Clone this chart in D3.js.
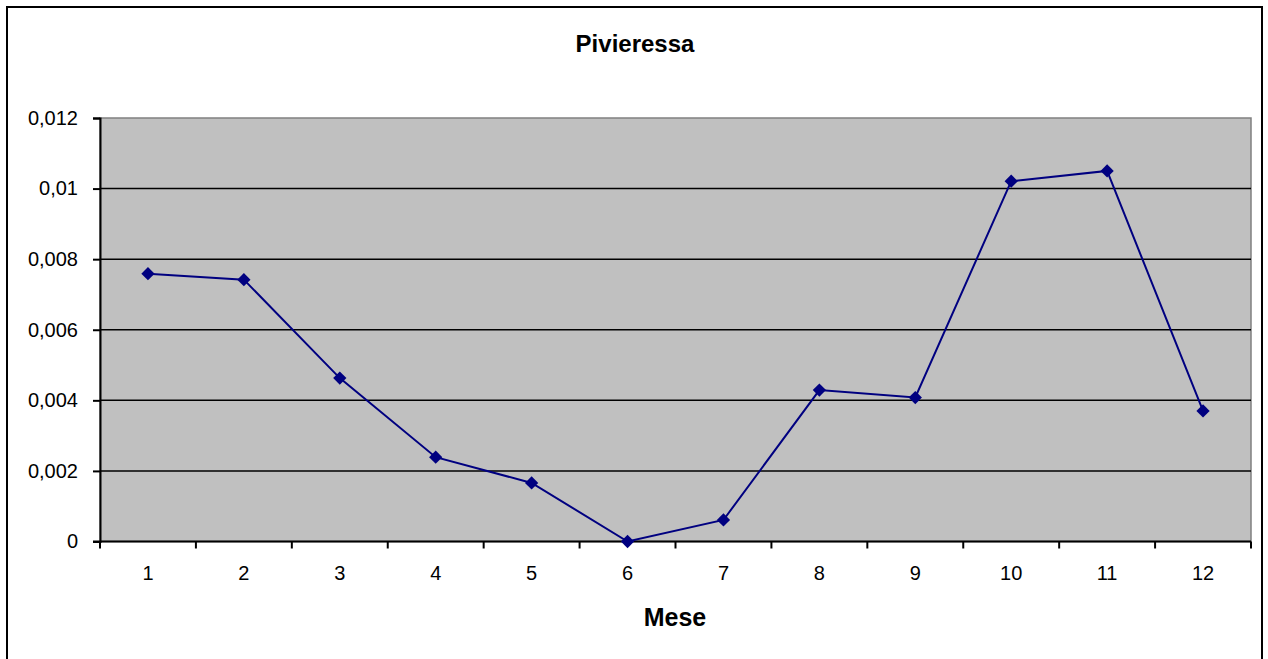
<!DOCTYPE html>
<html><head><meta charset="utf-8">
<script src="https://cdn.jsdelivr.net/npm/d3@7"></script>
<style>body{margin:0;background:#fff}svg{display:block}text{font-family:"Liberation Sans",Arial,sans-serif}</style>
</head><body>
<script>
const months = ["1","2","3","4","5","6","7","8","9","10","11","12"];
const values = [0.00759,0.00742,0.00463,0.00239,0.00166,0.0,0.00061,0.00429,0.00408,0.01021,0.0105,0.0037];
const yTicks = [0,0.002,0.004,0.006,0.008,0.01,0.012];
const yTickLabels = ["0","0,002","0,004","0,006","0,008","0,01","0,012"];
const title = "Pivieressa";
const xTitle = "Mese";

const W=1268,H=659;
const svg=d3.select("body").append("svg").attr("width",W).attr("height",H);
svg.append("rect").attr("x",7).attr("y",7).attr("width",1255).attr("height",660).attr("fill","#fff").attr("stroke","#000").attr("stroke-width",2);

const L=100,R=1251,T=118,B=541.5;
const x=d3.scaleBand().domain(months).range([L,R]);
const y=d3.scaleLinear().domain([0,0.012]).range([B,T]);

svg.append("rect").attr("x",L).attr("y",T).attr("width",R-L).attr("height",B-T).attr("fill","#c0c0c0").attr("stroke","#808080").attr("stroke-width",1.5);

// gridlines
svg.append("g").selectAll("line").data(yTicks.filter(d=>d>0 && d<0.012)).join("line")
  .attr("x1",L).attr("x2",R).attr("y1",d=>y(d)).attr("y2",d=>y(d)).attr("stroke","#000").attr("stroke-width",1.5);

// y axis
const yAxis=d3.axisLeft(y).tickValues(yTicks).tickSize(7).tickPadding(15).tickFormat((d,i)=>yTickLabels[i]);
const gy=svg.append("g").attr("transform",`translate(${L},0)`).call(yAxis);
gy.attr("font-size",null).attr("font-family",null);
gy.select(".domain").attr("stroke","#000").attr("stroke-width",2);
gy.selectAll(".tick line").attr("stroke","#000").attr("stroke-width",2);
gy.selectAll(".tick text").style("font-size","20px").attr("fill","#000");

// x axis baseline
svg.append("line").attr("x1",L-7).attr("x2",R).attr("y1",B).attr("y2",B).attr("stroke","#000").attr("stroke-width",2);
// x ticks at band boundaries
const bounds=months.map(m=>x(m)).concat([R]);
svg.append("g").selectAll("line").data(bounds).join("line")
  .attr("x1",d=>d).attr("x2",d=>d).attr("y1",B).attr("y2",B+7).attr("stroke","#000").attr("stroke-width",2);
svg.append("g").selectAll("text").data(months).join("text")
  .attr("x",d=>x(d)+x.bandwidth()/2).attr("y",580).attr("text-anchor","middle")
  .style("font-size","20px").attr("fill","#000").text(d=>d);

// line
const line=d3.line().x((d,i)=>x(months[i])+x.bandwidth()/2).y(d=>y(d));
svg.append("path").datum(values).attr("d",line).attr("fill","none").attr("stroke","#000080").attr("stroke-width",2);
svg.append("g").selectAll("path").data(values).join("path")
  .attr("d",d3.symbol().type(d3.symbolSquare).size(88))
  .attr("transform",(d,i)=>`translate(${x(months[i])+x.bandwidth()/2},${y(d)}) rotate(45)`)
  .attr("fill","#000080");

svg.append("text").attr("x",635).attr("y",52).attr("text-anchor","middle").style("font-size","24px").attr("font-weight","bold").text(title);
svg.append("text").attr("x",675).attr("y",626).attr("text-anchor","middle").style("font-size","25px").attr("font-weight","bold").text(xTitle);
</script>
</body></html>
